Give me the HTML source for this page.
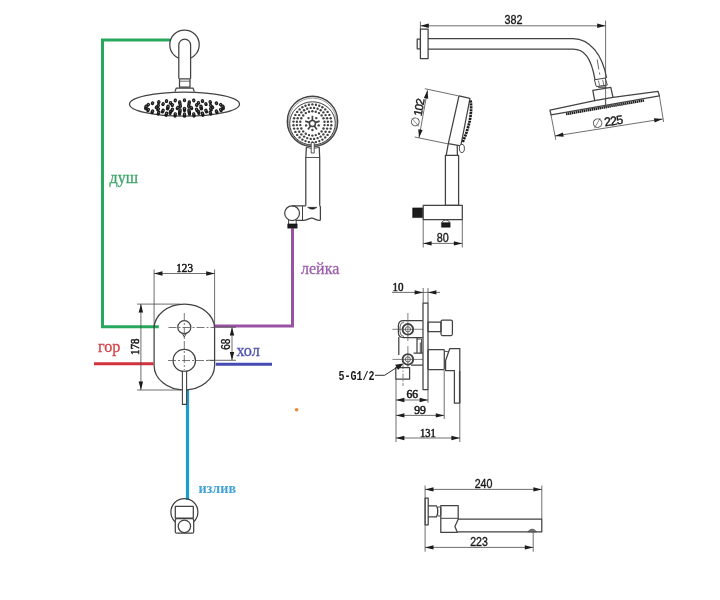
<!DOCTYPE html>
<html lang="ru">
<head>
<meta charset="utf-8">
<title>Схема</title>
<style>
html,body{margin:0;padding:0;background:#fff;}
body{width:720px;height:600px;overflow:hidden;}
svg{display:block;}
</style>
</head>
<body>
<svg width="720" height="600" viewBox="0 0 720 600">
<rect width="720" height="600" fill="#ffffff"/>
<g fill="none" stroke-linecap="butt" stroke-linejoin="round" filter="url(#bl)">
<path d="M170,40 H102.5 V326.8 H158.8" stroke="#28a95e" stroke-width="3" fill="none" stroke-linejoin="miter"/>
<path d="M292.5,228.2 V326 H214.6" stroke="#9852a2" stroke-width="3" fill="none" stroke-linejoin="miter"/>
<line x1="94" y1="363.7" x2="153.5" y2="363.7" stroke="#d2303a" stroke-width="3" />
<line x1="215.8" y1="364.2" x2="272" y2="364.2" stroke="#454bb2" stroke-width="3" />
<line x1="187.5" y1="389.5" x2="187.5" y2="500" stroke="#1f9bcd" stroke-width="3.2" />
<circle cx="296.6" cy="409.8" r="1.8" fill="#f0862a"/>
<circle cx="184.5" cy="44.7" r="14.7" stroke="#424242" stroke-width="1.25" fill="#fff"/>
<path d="M178.8,78.8 V45 A5.9,5.9 0 0 1 190.6,45 V78.8" stroke="#424242" stroke-width="1.25" fill="#fff" />
<rect x="179.5" y="78.8" width="10.5" height="8.4" rx="0" stroke="#424242" stroke-width="1.25" fill="#fff"/>
<line x1="179.5" y1="81.2" x2="190" y2="81.2" stroke="#4a4a4a" stroke-width="0.8" />
<path d="M175,91.6 L176.3,88 H193 L194.3,91.6" stroke="#424242" stroke-width="1.25" fill="#fff" />
<ellipse cx="184.5" cy="104.2" rx="55" ry="12" stroke="#424242" stroke-width="1.25" fill="#fff" />
<line x1="222.8" y1="107.8" x2="223.3" y2="108.6" stroke="#1a1a1a" stroke-width="3.3" stroke-linecap="round"/>
<circle cx="222.8" cy="107.8" r="0.55" fill="#999"/>
<line x1="220.6" y1="109.5" x2="221.2" y2="110.6" stroke="#1a1a1a" stroke-width="3.3" stroke-linecap="round"/>
<circle cx="220.6" cy="109.5" r="0.55" fill="#999"/>
<line x1="216.3" y1="111.0" x2="217.0" y2="112.5" stroke="#1a1a1a" stroke-width="3.3" stroke-linecap="round"/>
<circle cx="216.3" cy="111.0" r="0.55" fill="#999"/>
<line x1="210.1" y1="112.2" x2="210.8" y2="114.0" stroke="#1a1a1a" stroke-width="3.3" stroke-linecap="round"/>
<circle cx="210.1" cy="112.2" r="0.55" fill="#999"/>
<line x1="202.4" y1="113.2" x2="203.0" y2="115.2" stroke="#1a1a1a" stroke-width="3.3" stroke-linecap="round"/>
<circle cx="202.4" cy="113.2" r="0.55" fill="#999"/>
<line x1="193.7" y1="113.8" x2="194.0" y2="116.0" stroke="#1a1a1a" stroke-width="3.3" stroke-linecap="round"/>
<circle cx="193.7" cy="113.8" r="0.55" fill="#999"/>
<line x1="184.5" y1="114.0" x2="184.5" y2="116.2" stroke="#1a1a1a" stroke-width="3.3" stroke-linecap="round"/>
<circle cx="184.5" cy="114.0" r="0.55" fill="#999"/>
<line x1="175.3" y1="113.8" x2="175.0" y2="116.0" stroke="#1a1a1a" stroke-width="3.3" stroke-linecap="round"/>
<circle cx="175.3" cy="113.8" r="0.55" fill="#999"/>
<line x1="166.6" y1="113.2" x2="166.0" y2="115.2" stroke="#1a1a1a" stroke-width="3.3" stroke-linecap="round"/>
<circle cx="166.6" cy="113.2" r="0.55" fill="#999"/>
<line x1="158.9" y1="112.2" x2="158.2" y2="114.0" stroke="#1a1a1a" stroke-width="3.3" stroke-linecap="round"/>
<circle cx="158.9" cy="112.2" r="0.55" fill="#999"/>
<line x1="152.7" y1="111.0" x2="152.0" y2="112.5" stroke="#1a1a1a" stroke-width="3.3" stroke-linecap="round"/>
<circle cx="152.7" cy="111.0" r="0.55" fill="#999"/>
<line x1="148.4" y1="109.5" x2="147.8" y2="110.6" stroke="#1a1a1a" stroke-width="3.3" stroke-linecap="round"/>
<circle cx="148.4" cy="109.5" r="0.55" fill="#999"/>
<line x1="146.2" y1="107.8" x2="145.7" y2="108.6" stroke="#1a1a1a" stroke-width="3.3" stroke-linecap="round"/>
<circle cx="146.2" cy="107.8" r="0.55" fill="#999"/>
<line x1="146.2" y1="106.2" x2="145.8" y2="106.8" stroke="#1a1a1a" stroke-width="3.3" stroke-linecap="round"/>
<circle cx="146.2" cy="106.2" r="0.55" fill="#999"/>
<line x1="148.4" y1="104.5" x2="148.0" y2="105.1" stroke="#1a1a1a" stroke-width="3.3" stroke-linecap="round"/>
<circle cx="148.4" cy="104.5" r="0.55" fill="#999"/>
<line x1="152.7" y1="103.0" x2="152.4" y2="103.6" stroke="#1a1a1a" stroke-width="3.3" stroke-linecap="round"/>
<circle cx="152.7" cy="103.0" r="0.55" fill="#999"/>
<line x1="158.9" y1="101.8" x2="158.6" y2="102.4" stroke="#1a1a1a" stroke-width="3.3" stroke-linecap="round"/>
<circle cx="158.9" cy="101.8" r="0.55" fill="#999"/>
<line x1="166.6" y1="100.8" x2="166.4" y2="101.4" stroke="#1a1a1a" stroke-width="3.3" stroke-linecap="round"/>
<circle cx="166.6" cy="100.8" r="0.55" fill="#999"/>
<line x1="175.3" y1="100.2" x2="175.2" y2="100.8" stroke="#1a1a1a" stroke-width="3.3" stroke-linecap="round"/>
<circle cx="175.3" cy="100.2" r="0.55" fill="#999"/>
<line x1="184.5" y1="100.0" x2="184.5" y2="100.6" stroke="#1a1a1a" stroke-width="3.3" stroke-linecap="round"/>
<circle cx="184.5" cy="100.0" r="0.55" fill="#999"/>
<line x1="193.7" y1="100.2" x2="193.8" y2="100.8" stroke="#1a1a1a" stroke-width="3.3" stroke-linecap="round"/>
<circle cx="193.7" cy="100.2" r="0.55" fill="#999"/>
<line x1="202.4" y1="100.8" x2="202.6" y2="101.4" stroke="#1a1a1a" stroke-width="3.3" stroke-linecap="round"/>
<circle cx="202.4" cy="100.8" r="0.55" fill="#999"/>
<line x1="210.1" y1="101.8" x2="210.4" y2="102.4" stroke="#1a1a1a" stroke-width="3.3" stroke-linecap="round"/>
<circle cx="210.1" cy="101.8" r="0.55" fill="#999"/>
<line x1="216.3" y1="103.0" x2="216.6" y2="103.6" stroke="#1a1a1a" stroke-width="3.3" stroke-linecap="round"/>
<circle cx="216.3" cy="103.0" r="0.55" fill="#999"/>
<line x1="220.6" y1="104.5" x2="221.0" y2="105.1" stroke="#1a1a1a" stroke-width="3.3" stroke-linecap="round"/>
<circle cx="220.6" cy="104.5" r="0.55" fill="#999"/>
<line x1="222.8" y1="106.2" x2="223.2" y2="106.8" stroke="#1a1a1a" stroke-width="3.3" stroke-linecap="round"/>
<circle cx="222.8" cy="106.2" r="0.55" fill="#999"/>
<line x1="212.3" y1="107.0" x2="212.7" y2="107.6" stroke="#1a1a1a" stroke-width="3.3" stroke-linecap="round"/>
<circle cx="212.3" cy="107.0" r="0.55" fill="#999"/>
<line x1="210.6" y1="108.7" x2="211.2" y2="109.9" stroke="#1a1a1a" stroke-width="3.3" stroke-linecap="round"/>
<circle cx="210.6" cy="108.7" r="0.55" fill="#999"/>
<line x1="205.8" y1="110.2" x2="206.5" y2="111.9" stroke="#1a1a1a" stroke-width="3.3" stroke-linecap="round"/>
<circle cx="205.8" cy="110.2" r="0.55" fill="#999"/>
<line x1="198.4" y1="111.4" x2="198.9" y2="113.4" stroke="#1a1a1a" stroke-width="3.3" stroke-linecap="round"/>
<circle cx="198.4" cy="111.4" r="0.55" fill="#999"/>
<line x1="189.3" y1="112.0" x2="189.5" y2="114.1" stroke="#1a1a1a" stroke-width="3.3" stroke-linecap="round"/>
<circle cx="189.3" cy="112.0" r="0.55" fill="#999"/>
<line x1="179.7" y1="112.0" x2="179.5" y2="114.1" stroke="#1a1a1a" stroke-width="3.3" stroke-linecap="round"/>
<circle cx="179.7" cy="112.0" r="0.55" fill="#999"/>
<line x1="170.6" y1="111.4" x2="170.1" y2="113.4" stroke="#1a1a1a" stroke-width="3.3" stroke-linecap="round"/>
<circle cx="170.6" cy="111.4" r="0.55" fill="#999"/>
<line x1="163.2" y1="110.2" x2="162.5" y2="111.9" stroke="#1a1a1a" stroke-width="3.3" stroke-linecap="round"/>
<circle cx="163.2" cy="110.2" r="0.55" fill="#999"/>
<line x1="158.4" y1="108.7" x2="157.8" y2="109.9" stroke="#1a1a1a" stroke-width="3.3" stroke-linecap="round"/>
<circle cx="158.4" cy="108.7" r="0.55" fill="#999"/>
<line x1="156.7" y1="107.0" x2="156.3" y2="107.6" stroke="#1a1a1a" stroke-width="3.3" stroke-linecap="round"/>
<circle cx="156.7" cy="107.0" r="0.55" fill="#999"/>
<line x1="158.4" y1="105.3" x2="158.0" y2="105.9" stroke="#1a1a1a" stroke-width="3.3" stroke-linecap="round"/>
<circle cx="158.4" cy="105.3" r="0.55" fill="#999"/>
<line x1="163.2" y1="103.8" x2="162.9" y2="104.4" stroke="#1a1a1a" stroke-width="3.3" stroke-linecap="round"/>
<circle cx="163.2" cy="103.8" r="0.55" fill="#999"/>
<line x1="170.6" y1="102.6" x2="170.4" y2="103.2" stroke="#1a1a1a" stroke-width="3.3" stroke-linecap="round"/>
<circle cx="170.6" cy="102.6" r="0.55" fill="#999"/>
<line x1="179.7" y1="102.0" x2="179.6" y2="102.6" stroke="#1a1a1a" stroke-width="3.3" stroke-linecap="round"/>
<circle cx="179.7" cy="102.0" r="0.55" fill="#999"/>
<line x1="189.3" y1="102.0" x2="189.4" y2="102.6" stroke="#1a1a1a" stroke-width="3.3" stroke-linecap="round"/>
<circle cx="189.3" cy="102.0" r="0.55" fill="#999"/>
<line x1="198.4" y1="102.6" x2="198.6" y2="103.2" stroke="#1a1a1a" stroke-width="3.3" stroke-linecap="round"/>
<circle cx="198.4" cy="102.6" r="0.55" fill="#999"/>
<line x1="205.8" y1="103.8" x2="206.1" y2="104.4" stroke="#1a1a1a" stroke-width="3.3" stroke-linecap="round"/>
<circle cx="205.8" cy="103.8" r="0.55" fill="#999"/>
<line x1="210.6" y1="105.3" x2="211.0" y2="105.9" stroke="#1a1a1a" stroke-width="3.3" stroke-linecap="round"/>
<circle cx="210.6" cy="105.3" r="0.55" fill="#999"/>
<line x1="200.9" y1="107.8" x2="201.5" y2="108.8" stroke="#1a1a1a" stroke-width="3.3" stroke-linecap="round"/>
<circle cx="200.9" cy="107.8" r="0.55" fill="#999"/>
<line x1="196.5" y1="109.2" x2="197.2" y2="110.9" stroke="#1a1a1a" stroke-width="3.3" stroke-linecap="round"/>
<circle cx="196.5" cy="109.2" r="0.55" fill="#999"/>
<line x1="188.9" y1="110.0" x2="189.2" y2="112.1" stroke="#1a1a1a" stroke-width="3.3" stroke-linecap="round"/>
<circle cx="188.9" cy="110.0" r="0.55" fill="#999"/>
<line x1="180.1" y1="110.0" x2="179.8" y2="112.1" stroke="#1a1a1a" stroke-width="3.3" stroke-linecap="round"/>
<circle cx="180.1" cy="110.0" r="0.55" fill="#999"/>
<line x1="172.5" y1="109.2" x2="171.8" y2="110.9" stroke="#1a1a1a" stroke-width="3.3" stroke-linecap="round"/>
<circle cx="172.5" cy="109.2" r="0.55" fill="#999"/>
<line x1="168.1" y1="107.8" x2="167.5" y2="108.8" stroke="#1a1a1a" stroke-width="3.3" stroke-linecap="round"/>
<circle cx="168.1" cy="107.8" r="0.55" fill="#999"/>
<line x1="168.1" y1="106.2" x2="167.7" y2="106.8" stroke="#1a1a1a" stroke-width="3.3" stroke-linecap="round"/>
<circle cx="168.1" cy="106.2" r="0.55" fill="#999"/>
<line x1="172.5" y1="104.8" x2="172.2" y2="105.4" stroke="#1a1a1a" stroke-width="3.3" stroke-linecap="round"/>
<circle cx="172.5" cy="104.8" r="0.55" fill="#999"/>
<line x1="180.1" y1="104.0" x2="180.0" y2="104.6" stroke="#1a1a1a" stroke-width="3.3" stroke-linecap="round"/>
<circle cx="180.1" cy="104.0" r="0.55" fill="#999"/>
<line x1="188.9" y1="104.0" x2="189.0" y2="104.6" stroke="#1a1a1a" stroke-width="3.3" stroke-linecap="round"/>
<circle cx="188.9" cy="104.0" r="0.55" fill="#999"/>
<line x1="196.5" y1="104.8" x2="196.8" y2="105.4" stroke="#1a1a1a" stroke-width="3.3" stroke-linecap="round"/>
<circle cx="196.5" cy="104.8" r="0.55" fill="#999"/>
<line x1="200.9" y1="106.2" x2="201.3" y2="106.8" stroke="#1a1a1a" stroke-width="3.3" stroke-linecap="round"/>
<circle cx="200.9" cy="106.2" r="0.55" fill="#999"/>
<line x1="191.1" y1="107.4" x2="191.7" y2="108.5" stroke="#1a1a1a" stroke-width="3.3" stroke-linecap="round"/>
<circle cx="191.1" cy="107.4" r="0.55" fill="#999"/>
<line x1="184.5" y1="108.3" x2="184.5" y2="110.5" stroke="#1a1a1a" stroke-width="3.3" stroke-linecap="round"/>
<circle cx="184.5" cy="108.3" r="0.55" fill="#999"/>
<line x1="177.9" y1="107.4" x2="177.3" y2="108.5" stroke="#1a1a1a" stroke-width="3.3" stroke-linecap="round"/>
<circle cx="177.9" cy="107.4" r="0.55" fill="#999"/>
<line x1="180.4" y1="106.0" x2="180.2" y2="106.6" stroke="#1a1a1a" stroke-width="3.3" stroke-linecap="round"/>
<circle cx="180.4" cy="106.0" r="0.55" fill="#999"/>
<line x1="188.6" y1="106.0" x2="188.8" y2="106.6" stroke="#1a1a1a" stroke-width="3.3" stroke-linecap="round"/>
<circle cx="188.6" cy="106.0" r="0.55" fill="#999"/>
<circle cx="312.5" cy="121.4" r="25.2" stroke="#424242" stroke-width="1.4" fill="#fff"/>
<circle cx="312.5" cy="122.0" r="23.9" stroke="#424242" stroke-width="0.5" fill="none"/>
<ellipse cx="312.5" cy="123.4" rx="22.8" ry="21.6" stroke="#424242" stroke-width="1.0" fill="none" />
<circle cx="312.4" cy="104.4" r="1.2" fill="#424242"/>
<circle cx="315.9" cy="104.7" r="1.2" fill="#424242"/>
<circle cx="319.3" cy="105.7" r="1.2" fill="#424242"/>
<circle cx="322.4" cy="107.2" r="1.2" fill="#424242"/>
<circle cx="325.2" cy="109.4" r="1.2" fill="#424242"/>
<circle cx="327.6" cy="111.9" r="1.2" fill="#424242"/>
<circle cx="329.4" cy="114.9" r="1.2" fill="#424242"/>
<circle cx="330.7" cy="118.2" r="1.2" fill="#424242"/>
<circle cx="331.3" cy="121.6" r="1.2" fill="#424242"/>
<circle cx="331.3" cy="125.2" r="1.2" fill="#424242"/>
<circle cx="330.7" cy="128.6" r="1.2" fill="#424242"/>
<circle cx="329.4" cy="131.9" r="1.2" fill="#424242"/>
<circle cx="327.6" cy="134.9" r="1.2" fill="#424242"/>
<circle cx="325.2" cy="137.4" r="1.2" fill="#424242"/>
<circle cx="322.4" cy="139.6" r="1.2" fill="#424242"/>
<circle cx="319.3" cy="141.1" r="1.2" fill="#424242"/>
<circle cx="315.9" cy="142.1" r="1.2" fill="#424242"/>
<circle cx="312.4" cy="142.4" r="1.2" fill="#424242"/>
<circle cx="308.9" cy="142.1" r="1.2" fill="#424242"/>
<circle cx="305.5" cy="141.1" r="1.2" fill="#424242"/>
<circle cx="302.4" cy="139.6" r="1.2" fill="#424242"/>
<circle cx="299.6" cy="137.4" r="1.2" fill="#424242"/>
<circle cx="297.2" cy="134.9" r="1.2" fill="#424242"/>
<circle cx="295.4" cy="131.9" r="1.2" fill="#424242"/>
<circle cx="294.1" cy="128.6" r="1.2" fill="#424242"/>
<circle cx="293.5" cy="125.2" r="1.2" fill="#424242"/>
<circle cx="293.5" cy="121.6" r="1.2" fill="#424242"/>
<circle cx="294.1" cy="118.2" r="1.2" fill="#424242"/>
<circle cx="295.4" cy="114.9" r="1.2" fill="#424242"/>
<circle cx="297.2" cy="111.9" r="1.2" fill="#424242"/>
<circle cx="299.6" cy="109.4" r="1.2" fill="#424242"/>
<circle cx="302.4" cy="107.2" r="1.2" fill="#424242"/>
<circle cx="305.5" cy="105.7" r="1.2" fill="#424242"/>
<circle cx="308.9" cy="104.7" r="1.2" fill="#424242"/>
<circle cx="314.1" cy="107.9" r="1.2" fill="#424242"/>
<circle cx="317.6" cy="108.7" r="1.2" fill="#424242"/>
<circle cx="320.7" cy="110.2" r="1.2" fill="#424242"/>
<circle cx="323.4" cy="112.4" r="1.2" fill="#424242"/>
<circle cx="325.6" cy="115.1" r="1.2" fill="#424242"/>
<circle cx="327.1" cy="118.2" r="1.2" fill="#424242"/>
<circle cx="327.9" cy="121.7" r="1.2" fill="#424242"/>
<circle cx="327.9" cy="125.1" r="1.2" fill="#424242"/>
<circle cx="327.1" cy="128.6" r="1.2" fill="#424242"/>
<circle cx="325.6" cy="131.7" r="1.2" fill="#424242"/>
<circle cx="323.4" cy="134.4" r="1.2" fill="#424242"/>
<circle cx="320.7" cy="136.6" r="1.2" fill="#424242"/>
<circle cx="317.6" cy="138.1" r="1.2" fill="#424242"/>
<circle cx="314.1" cy="138.9" r="1.2" fill="#424242"/>
<circle cx="310.7" cy="138.9" r="1.2" fill="#424242"/>
<circle cx="307.2" cy="138.1" r="1.2" fill="#424242"/>
<circle cx="304.1" cy="136.6" r="1.2" fill="#424242"/>
<circle cx="301.4" cy="134.4" r="1.2" fill="#424242"/>
<circle cx="299.2" cy="131.7" r="1.2" fill="#424242"/>
<circle cx="297.7" cy="128.6" r="1.2" fill="#424242"/>
<circle cx="296.9" cy="125.1" r="1.2" fill="#424242"/>
<circle cx="296.9" cy="121.7" r="1.2" fill="#424242"/>
<circle cx="297.7" cy="118.2" r="1.2" fill="#424242"/>
<circle cx="299.2" cy="115.1" r="1.2" fill="#424242"/>
<circle cx="301.4" cy="112.4" r="1.2" fill="#424242"/>
<circle cx="304.1" cy="110.2" r="1.2" fill="#424242"/>
<circle cx="307.2" cy="108.7" r="1.2" fill="#424242"/>
<circle cx="310.7" cy="107.9" r="1.2" fill="#424242"/>
<circle cx="312.4" cy="111.2" r="1.2" fill="#424242"/>
<circle cx="315.8" cy="111.7" r="1.2" fill="#424242"/>
<circle cx="319.0" cy="113.1" r="1.2" fill="#424242"/>
<circle cx="321.6" cy="115.4" r="1.2" fill="#424242"/>
<circle cx="323.5" cy="118.3" r="1.2" fill="#424242"/>
<circle cx="324.5" cy="121.7" r="1.2" fill="#424242"/>
<circle cx="324.5" cy="125.1" r="1.2" fill="#424242"/>
<circle cx="323.5" cy="128.5" r="1.2" fill="#424242"/>
<circle cx="321.6" cy="131.4" r="1.2" fill="#424242"/>
<circle cx="319.0" cy="133.7" r="1.2" fill="#424242"/>
<circle cx="315.8" cy="135.1" r="1.2" fill="#424242"/>
<circle cx="312.4" cy="135.6" r="1.2" fill="#424242"/>
<circle cx="309.0" cy="135.1" r="1.2" fill="#424242"/>
<circle cx="305.8" cy="133.7" r="1.2" fill="#424242"/>
<circle cx="303.2" cy="131.4" r="1.2" fill="#424242"/>
<circle cx="301.3" cy="128.5" r="1.2" fill="#424242"/>
<circle cx="300.3" cy="125.1" r="1.2" fill="#424242"/>
<circle cx="300.3" cy="121.7" r="1.2" fill="#424242"/>
<circle cx="301.3" cy="118.3" r="1.2" fill="#424242"/>
<circle cx="303.2" cy="115.4" r="1.2" fill="#424242"/>
<circle cx="305.8" cy="113.1" r="1.2" fill="#424242"/>
<circle cx="309.0" cy="111.7" r="1.2" fill="#424242"/>
<line x1="312.4" y1="120.8" x2="312.4" y2="115.8" stroke="#424242" stroke-width="1.7"/>
<circle cx="316.3" cy="118.1" r="1.2" fill="#424242"/>
<line x1="314.9" y1="122.6" x2="319.6" y2="121.1" stroke="#424242" stroke-width="1.7"/>
<circle cx="318.7" cy="125.4" r="1.2" fill="#424242"/>
<line x1="313.9" y1="125.5" x2="316.9" y2="129.5" stroke="#424242" stroke-width="1.7"/>
<circle cx="312.4" cy="130.0" r="1.2" fill="#424242"/>
<line x1="310.9" y1="125.5" x2="307.9" y2="129.5" stroke="#424242" stroke-width="1.7"/>
<circle cx="306.1" cy="125.4" r="1.2" fill="#424242"/>
<line x1="309.9" y1="122.6" x2="305.2" y2="121.1" stroke="#424242" stroke-width="1.7"/>
<circle cx="308.5" cy="118.1" r="1.2" fill="#424242"/>
<circle cx="312.4" cy="123.4" r="3.0" stroke="#424242" stroke-width="1.5" fill="#fff"/>
<path d="M306.4,147 L305.8,158 V205.8 M319.7,205.8 V158 L319.2,147" stroke="#424242" stroke-width="1.25" fill="none" />
<path d="M306.4,147.3 Q312.5,150 319.2,147.3" stroke="#424242" stroke-width="0.9" fill="none" />
<rect x="311.2" y="142.5" width="3" height="10.5" rx="0" stroke="#424242" stroke-width="0.9" fill="#fff"/>
<line x1="305.8" y1="157.5" x2="319.7" y2="157.5" stroke="#424242" stroke-width="0.9" />
<circle cx="292.1" cy="213.2" r="7.4" stroke="#424242" stroke-width="1.25" fill="#fff"/>
<path d="M292,205.8 H305.8 M319.7,205.8 L320.4,206.6 V219.4 Q320.4,220.4 319.4,220.4 C316,220.4 314.3,218.1 311.8,218.1 C309,218.1 307,220.4 303,220.4 H295.5" stroke="#424242" stroke-width="1.25" fill="none" />
<line x1="302.5" y1="206" x2="302.5" y2="220.4" stroke="#424242" stroke-width="1" />
<path d="M307.5,207.3 H317.1 Q312.3,211.4 307.5,207.3 Z" stroke="#1a1a1a" stroke-width="0.4" fill="#1a1a1a" />
<path d="M288.6,220 V224 M296.2,220 V224" stroke="#424242" stroke-width="1" fill="none" />
<rect x="287.7" y="223.9" width="9.5" height="4.3" rx="0" stroke="#1a1a1a" stroke-width="0.5" fill="#1a1a1a"/>
<rect x="154.1" y="304.1" width="60.5" height="85.9" rx="30.25" ry="24.5" stroke="#424242" stroke-width="1.25" fill="none"/>
<circle cx="184.3" cy="327.2" r="6.5" stroke="#424242" stroke-width="1.25" fill="none"/>
<path d="M182.3,333.4 L184.3,337 L186.3,333.4" stroke="#424242" stroke-width="1" fill="none" />
<circle cx="184.3" cy="360.5" r="11.2" stroke="#424242" stroke-width="1.25" fill="none"/>
<rect x="182.4" y="371.2" width="4.2" height="33.2" rx="0" stroke="#424242" stroke-width="1.1" fill="#fff"/>
<line x1="168.5" y1="327.5" x2="214" y2="327.5" stroke="#555" stroke-width="0.8" stroke-dasharray="8 2 2 2"/>
<line x1="168" y1="360.5" x2="214.6" y2="360.5" stroke="#555" stroke-width="0.8" stroke-dasharray="8 2 2 2"/>
<line x1="184.3" y1="313" x2="184.3" y2="370" stroke="#555" stroke-width="0.8" stroke-dasharray="8 2 2 2"/>
<line x1="154.1" y1="269.5" x2="154.1" y2="327" stroke="#4a4a4a" stroke-width="0.8" />
<line x1="214.6" y1="269.5" x2="214.6" y2="325" stroke="#4a4a4a" stroke-width="0.8" />
<line x1="154.1" y1="273.5" x2="214.6" y2="273.5" stroke="#4a4a4a" stroke-width="0.8" />
<line x1="137" y1="304.1" x2="180" y2="304.1" stroke="#4a4a4a" stroke-width="0.8" />
<line x1="137" y1="390" x2="181" y2="390" stroke="#4a4a4a" stroke-width="0.8" />
<line x1="140.9" y1="304.1" x2="140.9" y2="390" stroke="#4a4a4a" stroke-width="0.8" />
<line x1="207.5" y1="360.3" x2="236" y2="360.3" stroke="#4a4a4a" stroke-width="0.8" />
<line x1="214.6" y1="327.2" x2="236" y2="327.2" stroke="#4a4a4a" stroke-width="0.8" />
<line x1="232" y1="327.2" x2="232" y2="360.3" stroke="#4a4a4a" stroke-width="0.8" />
<line x1="420.4" y1="21.5" x2="420.4" y2="29" stroke="#4a4a4a" stroke-width="0.8" />
<line x1="605.6" y1="20.5" x2="605.6" y2="106" stroke="#4a4a4a" stroke-width="0.8" />
<line x1="420.4" y1="25.8" x2="605.6" y2="25.8" stroke="#4a4a4a" stroke-width="0.8" />
<rect x="420.4" y="29.2" width="7.7" height="29.3" rx="0" stroke="#424242" stroke-width="1.25" fill="none"/>
<rect x="417.2" y="39" width="3.2" height="9.8" rx="0" stroke="#424242" stroke-width="1.25" fill="none"/>
<path d="M428.1,38.5 H573 C590,38.5 602.5,55 606.6,78 M428.1,49.2 H573 C584,49.2 591,57 595,79.6" stroke="#424242" stroke-width="1.25" fill="none" />
<path d="M594.4,79.8 L605.2,78 L607.3,85 L596.3,86.6 Z" stroke="#424242" stroke-width="1" fill="none" />
<path d="M598.4,80.5 L599.6,85.6 M602.6,79.8 L603.8,85" stroke="#424242" stroke-width="0.7" fill="none" />
<path d="M598,87.2 H606 V89" stroke="#424242" stroke-width="1.2" fill="none" />
<line x1="597.2" y1="59.5" x2="598.8" y2="69.5" stroke="#555" stroke-width="0.9" />
<line x1="599.4" y1="72.5" x2="599.8" y2="74.5" stroke="#555" stroke-width="0.9" />
<path d="M592.8,90.3 L610.8,87.3 L613,97.3 L594.7,100.7 Z" stroke="#424242" stroke-width="1.25" fill="#fff" />
<path d="M594.7,100.7 L550,110.2 L551,114.9 L659.4,95.8 L658,91.4 L613,97.3" stroke="#424242" stroke-width="1.25" fill="none" />
<path d="M566,114.1 L644,100.4" stroke="#1a1a1a" stroke-width="2.5" fill="none" stroke-dasharray="1.5 0.5"/>
<line x1="605.6" y1="87" x2="605.6" y2="106.5" stroke="#4a4a4a" stroke-width="0.8" />
<line x1="551" y1="115.1" x2="555.8" y2="139.8" stroke="#4a4a4a" stroke-width="0.8" />
<line x1="659.4" y1="95.8" x2="663.6" y2="122" stroke="#4a4a4a" stroke-width="0.8" />
<line x1="555" y1="136" x2="662.6" y2="119" stroke="#4a4a4a" stroke-width="0.8" />
<path d="M459,95.9 L470,98.3 L460.8,145.8 L448.3,143.7 Z" stroke="#424242" stroke-width="1.25" fill="none" />
<path d="M470.6,100.5 Q473.2,118 462.6,142.5" stroke="#1a1a1a" stroke-width="2.7" fill="none" stroke-dasharray="2.2 0.7"/>
<path d="M448.3,143.7 L446.2,155.4 M457.2,145.6 L457.4,155.4" stroke="#424242" stroke-width="1.25" fill="none" />
<ellipse cx="461.9" cy="148.4" rx="2.5" ry="4.1" stroke="#424242" stroke-width="1" fill="#fff" />
<rect x="445.4" y="155.4" width="13.2" height="50" rx="0" stroke="#424242" stroke-width="1.25" fill="none"/>
<rect x="423.2" y="205.4" width="39.1" height="14.1" rx="0" stroke="#424242" stroke-width="1.25" fill="none"/>
<rect x="412.6" y="207.9" width="10" height="9.7" rx="0" stroke="#1a1a1a" stroke-width="0.5" fill="#1a1a1a"/>
<path d="M441.6,222.6 Q445.8,217 450.1,222.6" stroke="#424242" stroke-width="1" fill="none" />
<rect x="441.4" y="222.6" width="8.8" height="4.7" rx="0" stroke="#1a1a1a" stroke-width="0.4" fill="#1a1a1a"/>
<line x1="424.8" y1="88.7" x2="458.2" y2="95.8" stroke="#4a4a4a" stroke-width="0.8" />
<line x1="414.7" y1="137" x2="447.7" y2="143.8" stroke="#4a4a4a" stroke-width="0.8" />
<line x1="427.5" y1="90.2" x2="419" y2="137.8" stroke="#4a4a4a" stroke-width="0.8" />
<line x1="423.2" y1="219.4" x2="423.2" y2="247.5" stroke="#4a4a4a" stroke-width="0.8" />
<line x1="462.3" y1="219.4" x2="462.3" y2="247.5" stroke="#4a4a4a" stroke-width="0.8" />
<line x1="423.2" y1="243.4" x2="462.3" y2="243.4" stroke="#4a4a4a" stroke-width="0.8" />
<rect x="423" y="303" width="5" height="86.6" rx="0" stroke="#424242" stroke-width="1.25" fill="none"/>
<line x1="423.2" y1="288" x2="423.2" y2="303" stroke="#4a4a4a" stroke-width="0.8" />
<line x1="428" y1="288" x2="428" y2="303" stroke="#4a4a4a" stroke-width="0.8" />
<line x1="392" y1="292.4" x2="440" y2="292.4" stroke="#4a4a4a" stroke-width="0.8" />
<path d="M422.8,320.7 H403.5 Q398.4,320.7 398.4,325.8 V332.6 Q398.4,337.7 403.5,337.7 H422.8" stroke="#424242" stroke-width="1.25" fill="none" />
<path d="M404,322 Q400,322.5 400,327 V331.5 Q400,336 404,336.6" stroke="#424242" stroke-width="0.8" fill="none" />
<circle cx="407.9" cy="329.3" r="5.3" stroke="#424242" stroke-width="1.9" fill="none"/>
<circle cx="407.9" cy="329.3" r="2.6" stroke="#424242" stroke-width="0.8" fill="none"/>
<line x1="392.4" y1="329.3" x2="423" y2="329.3" stroke="#4a4a4a" stroke-width="0.7" />
<line x1="407.9" y1="313" x2="407.9" y2="341" stroke="#4a4a4a" stroke-width="0.7" />
<rect x="428" y="322" width="13" height="9.6" rx="0" stroke="#424242" stroke-width="1.25" fill="none"/>
<rect x="441" y="320" width="11.4" height="15.6" rx="1.5" stroke="#424242" stroke-width="1.25" fill="none"/>
<path d="M398.8,337 V355 M417,338 V353" stroke="#424242" stroke-width="1.25" fill="none" />
<path d="M417,339 H421.5 V353 M420.3,342.5 V353" stroke="#424242" stroke-width="0.9" fill="none" />
<path d="M413.5,353 H422.8 M411,365.2 H422.8" stroke="#424242" stroke-width="1.25" fill="none" />
<circle cx="407.9" cy="359.4" r="5.3" stroke="#424242" stroke-width="1.9" fill="none"/>
<circle cx="407.9" cy="359.4" r="2.6" stroke="#424242" stroke-width="0.8" fill="none"/>
<line x1="392.4" y1="359.4" x2="423" y2="359.4" stroke="#4a4a4a" stroke-width="0.7" />
<line x1="407.9" y1="346" x2="407.9" y2="367" stroke="#4a4a4a" stroke-width="0.7" />
<rect x="428" y="349.7" width="16.3" height="19.8" rx="0.8" stroke="#424242" stroke-width="1.25" fill="none"/>
<path d="M449.8,348.5 H459.8 V403.2 H454.4 V370.6 H445.6 V360.5 Z" stroke="#424242" stroke-width="1.25" fill="none" />
<line x1="444.4" y1="351.2" x2="448.6" y2="351.8" stroke="#424242" stroke-width="0.9" />
<line x1="459.6" y1="371" x2="459.6" y2="403" stroke="#424242" stroke-width="1.4" />
<rect x="395.8" y="367.7" width="13.8" height="11.4" rx="0" stroke="#424242" stroke-width="1.25" fill="none"/>
<line x1="403" y1="364" x2="403" y2="386" stroke="#4a4a4a" stroke-width="0.7" stroke-dasharray="5 1.5 1.5 1.5"/>
<path d="M375,375.3 H384.6 L398.5,366.3" stroke="#1a1a1a" stroke-width="0.9" fill="none" />
<line x1="396" y1="379.2" x2="396" y2="442" stroke="#4a4a4a" stroke-width="0.8" />
<line x1="428" y1="389.6" x2="428" y2="402.8" stroke="#4a4a4a" stroke-width="0.8" />
<line x1="444.2" y1="370.2" x2="444.2" y2="419" stroke="#4a4a4a" stroke-width="0.8" />
<line x1="459.8" y1="403.5" x2="459.8" y2="442" stroke="#4a4a4a" stroke-width="0.8" />
<line x1="396" y1="400" x2="428" y2="400" stroke="#4a4a4a" stroke-width="0.8" />
<line x1="396" y1="415.4" x2="444.2" y2="415.4" stroke="#4a4a4a" stroke-width="0.8" />
<line x1="396" y1="438" x2="459.8" y2="438" stroke="#4a4a4a" stroke-width="0.8" />
<line x1="425.1" y1="485.5" x2="425.1" y2="551.7" stroke="#4a4a4a" stroke-width="0.8" />
<line x1="541.8" y1="485.5" x2="541.8" y2="519" stroke="#4a4a4a" stroke-width="0.8" />
<line x1="533.2" y1="532.2" x2="533.2" y2="551.7" stroke="#4a4a4a" stroke-width="0.8" />
<line x1="425.1" y1="489.4" x2="541.8" y2="489.4" stroke="#4a4a4a" stroke-width="0.8" />
<line x1="425.1" y1="547.4" x2="533.2" y2="547.4" stroke="#4a4a4a" stroke-width="0.8" />
<rect x="425.1" y="498.2" width="3.1" height="26.6" rx="0" stroke="#424242" stroke-width="1.25" fill="none"/>
<path d="M428.2,505.8 H436.5 Q439,511.3 436.5,516.9 H428.2" stroke="#424242" stroke-width="1.25" fill="none" />
<rect x="437.6" y="507" width="3.3" height="9" rx="1" stroke="#424242" stroke-width="1" fill="none"/>
<path d="M440.8,505.6 H458.2 V519.2 L454.9,526.4 L457.4,532.4 H440.8 Z" stroke="#424242" stroke-width="1.25" fill="none" />
<line x1="440.8" y1="518.3" x2="458.2" y2="518.3" stroke="#424242" stroke-width="1" />
<path d="M458.2,519.2 H541.8 V531.8 H457.4" stroke="#424242" stroke-width="1.25" fill="none" />
<path d="M527.8,531.8 Q532.2,526.5 536.5,531.8 Z" stroke="#424242" stroke-width="0.8" fill="#777" />
<circle cx="184.4" cy="512" r="13.5" stroke="#424242" stroke-width="1.25" fill="none"/>
<rect x="175.3" y="506.4" width="18" height="11.6" rx="0" stroke="#424242" stroke-width="1.25" fill="#fff"/>
<rect x="175.3" y="518.6" width="18.4" height="14.6" rx="1.5" stroke="#424242" stroke-width="1.25" fill="#fff"/>
<circle cx="184.4" cy="526.3" r="6.2" stroke="#424242" stroke-width="1.25" fill="none"/>
</g>
<g fill="none" filter="url(#bl2)">
<text x="109.6" y="183" font-family='"Liberation Serif", serif' font-size="16" fill="#41a56c" text-anchor="start" font-weight="normal" stroke="#41a56c" stroke-width="0.3">душ</text>
<text x="301" y="273.6" font-family='"Liberation Serif", serif' font-size="16" fill="#9c60aa" text-anchor="start" font-weight="normal" stroke="#9c60aa" stroke-width="0.3">лейка</text>
<text x="98" y="351.6" font-family='"Liberation Serif", serif' font-size="16.2" fill="#d6434b" text-anchor="start" font-weight="normal" stroke="#d6434b" stroke-width="0.3">гор</text>
<text x="236.4" y="356.4" font-family='"Liberation Serif", serif' font-size="16.2" fill="#4d52b3" text-anchor="start" font-weight="normal" stroke="#4d52b3" stroke-width="0.3">хол</text>
<text x="198.4" y="492.9" font-family='"Liberation Serif", serif' font-size="14.2" fill="#3fa3d8" text-anchor="start" font-weight="bold" >излив</text>
<polygon points="154.10,273.50 162.50,271.30 162.50,275.70" fill="#1a1a1a"/>
<polygon points="214.60,273.50 206.20,275.70 206.20,271.30" fill="#1a1a1a"/>
<text x="184.6" y="272.0" font-family='"Liberation Serif", serif' font-size="12" fill="#1a1a1a" text-anchor="middle" font-weight="normal" textLength="16.8" lengthAdjust="spacingAndGlyphs" stroke="#1a1a1a" stroke-width="0.55">123</text>
<polygon points="140.90,304.10 143.10,312.50 138.70,312.50" fill="#1a1a1a"/>
<polygon points="140.90,390.00 138.70,381.60 143.10,381.60" fill="#1a1a1a"/>
<text x="139" y="346.7" font-family='"Liberation Serif", serif' font-size="12" fill="#1a1a1a" text-anchor="middle" font-weight="normal" transform="rotate(-90 139 346.7)" textLength="16.4" lengthAdjust="spacingAndGlyphs" stroke="#1a1a1a" stroke-width="0.55">178</text>
<polygon points="232.00,327.20 234.20,335.60 229.80,335.60" fill="#1a1a1a"/>
<polygon points="232.00,360.30 229.80,351.90 234.20,351.90" fill="#1a1a1a"/>
<text x="230.2" y="344.2" font-family='"Liberation Sans", sans-serif' font-size="11.9" fill="#1a1a1a" text-anchor="middle" font-weight="normal" transform="rotate(-90 230.2 344.2)" textLength="11.2" lengthAdjust="spacingAndGlyphs" stroke="#1a1a1a" stroke-width="0.35">68</text>
<polygon points="420.40,25.80 428.80,23.60 428.80,28.00" fill="#1a1a1a"/>
<polygon points="605.60,25.80 597.20,28.00 597.20,23.60" fill="#1a1a1a"/>
<text x="513.4" y="24.4" font-family='"Liberation Sans", sans-serif' font-size="11.9" fill="#1a1a1a" text-anchor="middle" font-weight="normal" textLength="18" lengthAdjust="spacingAndGlyphs" stroke="#1a1a1a" stroke-width="0.35">382</text>
<polygon points="555.00,136.00 562.95,132.52 563.64,136.86" fill="#1a1a1a"/>
<polygon points="662.60,119.00 654.65,122.48 653.96,118.14" fill="#1a1a1a"/>
<text transform="rotate(-9 608.5 125.6)" x="592.4" y="125.8" font-family='"Liberation Sans", "DejaVu Sans", sans-serif' font-size="12.2" fill="#1a1a1a"><tspan font-size="13" dy="0.3" fill="#4a4a4a">∅</tspan><tspan dx="-1.4" dy="-0.3" letter-spacing="-0.75" stroke="#1a1a1a" stroke-width="0.4"> 225</tspan></text>
<polygon points="427.50,90.20 428.19,98.86 423.86,98.08" fill="#1a1a1a"/>
<polygon points="419.00,137.80 418.31,129.14 422.64,129.92" fill="#1a1a1a"/>
<text transform="rotate(-80 423.2 107.3)" x="402.3" y="106.2" font-family='"Liberation Sans", "DejaVu Sans", sans-serif' font-size="11.6" fill="#1a1a1a"><tspan font-size="12" fill="#4a4a4a">∅</tspan><tspan dx="1.0" dy="1.0" letter-spacing="-0.8" stroke="#1a1a1a" stroke-width="0.4">102</tspan></text>
<polygon points="423.20,243.40 431.60,241.20 431.60,245.60" fill="#1a1a1a"/>
<polygon points="462.30,243.40 453.90,245.60 453.90,241.20" fill="#1a1a1a"/>
<text x="442.8" y="241.7" font-family='"Liberation Sans", sans-serif' font-size="11.9" fill="#1a1a1a" text-anchor="middle" font-weight="normal" textLength="12" lengthAdjust="spacingAndGlyphs" stroke="#1a1a1a" stroke-width="0.35">80</text>
<polygon points="423.00,292.40 414.60,294.60 414.60,290.20" fill="#1a1a1a"/>
<polygon points="428.00,292.40 436.40,290.20 436.40,294.60" fill="#1a1a1a"/>
<text x="398" y="290.6" font-family='"Liberation Serif", serif' font-size="12" fill="#1a1a1a" text-anchor="middle" font-weight="normal" textLength="11" lengthAdjust="spacingAndGlyphs" stroke="#1a1a1a" stroke-width="0.55">10</text>
<text x="338.6" y="379.6" font-family='"Liberation Mono", monospace' font-weight="bold" font-size="10" fill="#1a1a1a" transform="translate(0 379.6) scale(1 1.33) translate(0 -379.6)">5-G1/2</text>
<polygon points="403.40,363.40 398.15,369.90 395.15,364.70" fill="#1a1a1a"/>
<polygon points="396.00,400.00 404.40,397.80 404.40,402.20" fill="#1a1a1a"/>
<polygon points="428.00,400.00 419.60,402.20 419.60,397.80" fill="#1a1a1a"/>
<text x="412.2" y="398.3" font-family='"Liberation Serif", serif' font-size="12" fill="#1a1a1a" text-anchor="middle" font-weight="normal" textLength="11.6" lengthAdjust="spacingAndGlyphs" stroke="#1a1a1a" stroke-width="0.55">66</text>
<polygon points="396.00,415.40 404.40,413.20 404.40,417.60" fill="#1a1a1a"/>
<polygon points="444.20,415.40 435.80,417.60 435.80,413.20" fill="#1a1a1a"/>
<text x="420" y="413.9" font-family='"Liberation Serif", serif' font-size="12" fill="#1a1a1a" text-anchor="middle" font-weight="normal" textLength="11.6" lengthAdjust="spacingAndGlyphs" stroke="#1a1a1a" stroke-width="0.55">99</text>
<polygon points="396.00,438.00 404.40,435.80 404.40,440.20" fill="#1a1a1a"/>
<polygon points="459.80,438.00 451.40,440.20 451.40,435.80" fill="#1a1a1a"/>
<text x="427.8" y="436.8" font-family='"Liberation Serif", serif' font-size="12" fill="#1a1a1a" text-anchor="middle" font-weight="normal" textLength="15.8" lengthAdjust="spacingAndGlyphs" stroke="#1a1a1a" stroke-width="0.55">131</text>
<polygon points="425.10,489.40 433.50,487.20 433.50,491.60" fill="#1a1a1a"/>
<polygon points="541.80,489.40 533.40,491.60 533.40,487.20" fill="#1a1a1a"/>
<text x="483.6" y="488" font-family='"Liberation Sans", sans-serif' font-size="11.9" fill="#1a1a1a" text-anchor="middle" font-weight="normal" textLength="17.8" lengthAdjust="spacingAndGlyphs" stroke="#1a1a1a" stroke-width="0.35">240</text>
<polygon points="425.10,547.40 433.50,545.20 433.50,549.60" fill="#1a1a1a"/>
<polygon points="533.20,547.40 524.80,549.60 524.80,545.20" fill="#1a1a1a"/>
<text x="479" y="545.9" font-family='"Liberation Sans", sans-serif' font-size="11.9" fill="#1a1a1a" text-anchor="middle" font-weight="normal" textLength="17.6" lengthAdjust="spacingAndGlyphs" stroke="#1a1a1a" stroke-width="0.35">223</text>
</g>
<defs><filter id="bl" x="-5%" y="-5%" width="110%" height="110%"><feGaussianBlur stdDeviation="0.62"/></filter><filter id="bl2" x="-5%" y="-5%" width="110%" height="110%"><feGaussianBlur stdDeviation="0.45"/></filter></defs>
</svg>
</body>
</html>
